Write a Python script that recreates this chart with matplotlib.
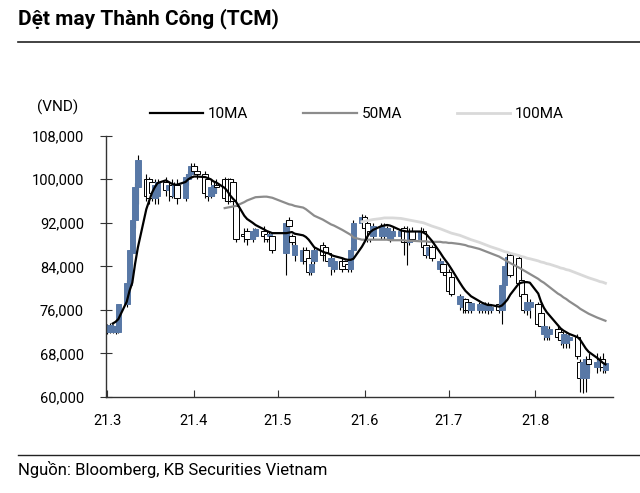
import matplotlib
matplotlib.use('Agg')
import matplotlib.pyplot as plt
import matplotlib.dates as mdates
from matplotlib.lines import Line2D
import numpy as np
import pandas as pd

plt.rcParams['font.family'] = ['Roboto', 'DejaVu Sans']

title = 'Dệt may Thành Công (TCM)'
source = 'Nguồn: Bloomberg, KB Securities Vietnam'
unit_label = '(VND)'
ma_labels = ['10MA', '50MA', '100MA']

start_date = '2021-03-01'
end_date = '2021-08-26'
holidays = ['2021-04-21', '2021-04-30', '2021-05-03']

tick_dates = ['2021-03-01', '2021-04-01', '2021-05-01', '2021-06-01', '2021-07-01', '2021-08-01']
tick_labels = ['21.3', '21.4', '21.5', '21.6', '21.7', '21.8']
y_ticks = [60000, 68000, 76000, 84000, 92000, 100000, 108000]

# OHLC in thousand VND, by month
open_k = [
    72.0, 72.0, 72.5, 72.0, 72.0, 77.0, 80.5, 86.5, 92.5, 98.5, 100.0, 100.0, 99.5, 96.5, 97.0, 99.5, 98.0, 99.0, 97.0, 99.0, 96.5, 100.0, 101.0,
    102.5, 101.5, 101.0, 100.0, 97.0, 97.5, 99.0, 100.0, 100.0, 100.0, 99.5, 95.0, 90.0, 90.5, 89.0, 89.5, 90.5, 90.0, 89.5, 89.5,
    86.5, 92.5, 89.5, 86.0, 85.0, 87.0, 85.5, 83.0, 85.0, 88.0, 87.5, 86.5, 84.0, 83.5, 85.0, 85.0, 84.5, 83.5, 87.0, 92.0,
    93.0, 92.0, 90.5, 89.5, 89.5, 89.5, 89.5, 89.0, 89.5, 89.5, 91.0, 90.5, 88.5, 90.5, 89.0, 90.5, 88.0, 86.0, 87.5, 83.5, 84.5, 83.0,
    83.0, 82.0, 77.0, 76.5, 78.0, 77.5, 76.0, 76.0, 76.0, 76.0, 76.0, 76.0, 77.0, 76.0, 80.5, 84.0, 86.0, 85.5, 81.5, 79.0, 76.0, 76.5,
    77.0, 75.5, 71.5, 71.0, 71.5, 72.5, 72.0, 70.0, 70.0, 70.5, 71.0, 66.5, 63.5, 63.5, 67.0, 65.5, 66.0, 67.0, 65.0,
]
high_k = [
    73.5, 73.6, 73.5, 73.3, 77.0, 81.5, 87.0, 92.5, 99.3, 104.5, 101.0, 100.5, 100.0, 100.0, 100.0, 100.5, 99.5, 100.0, 99.5, 100.0, 101.0, 101.5, 103.0,
    103.0, 102.5, 101.5, 100.5, 99.0, 99.5, 100.0, 100.5, 100.2, 100.2, 100.0, 95.0, 91.0, 91.0, 91.0, 91.0, 91.5, 90.5, 90.5, 89.5,
    92.5, 93.0, 90.0, 88.5, 87.5, 87.5, 86.0, 85.0, 87.5, 88.5, 88.0, 87.5, 86.0, 85.5, 85.5, 85.2, 85.0, 87.5, 92.5, 93.7,
    93.5, 92.5, 91.0, 92.0, 92.0, 92.0, 91.5, 91.0, 91.5, 91.0, 91.5, 91.5, 91.0, 91.2, 91.2, 91.0, 88.5, 88.0, 88.0, 85.5, 85.0, 84.0,
    83.5, 82.5, 79.0, 78.5, 78.2, 78.0, 77.5, 77.5, 77.5, 77.5, 77.5, 77.0, 77.5, 81.0, 84.5, 86.5, 86.5, 86.0, 82.0, 79.5, 78.0, 78.0,
    77.5, 76.0, 73.5, 73.0, 73.0, 73.0, 72.5, 72.0, 71.8, 71.5, 71.5, 67.0, 67.0, 67.5, 68.0, 68.0, 67.5, 68.0, 67.0,
]
low_k = [
    71.5, 71.8, 71.8, 71.5, 71.8, 76.5, 80.0, 84.0, 91.0, 95.5, 96.0, 95.5, 96.0, 95.5, 95.5, 97.0, 96.0, 96.5, 96.5, 95.5, 96.0, 99.0, 100.5,
    101.0, 100.0, 96.5, 96.0, 96.5, 97.0, 97.5, 96.0, 95.5, 95.8, 95.0, 88.5, 88.5, 88.0, 88.5, 89.0, 88.5, 88.5, 88.5, 86.5,
    82.5, 89.0, 87.5, 85.0, 84.5, 84.5, 82.5, 82.5, 84.5, 85.0, 85.5, 84.5, 82.5, 83.0, 83.0, 83.5, 83.0, 83.0, 86.5, 91.0,
    90.0, 88.5, 88.5, 89.0, 89.0, 89.0, 89.0, 88.5, 89.0, 88.5, 86.0, 84.2, 88.0, 88.5, 88.5, 86.0, 85.5, 85.5, 85.0, 83.0, 82.5, 82.0,
    79.0, 78.5, 76.0, 75.5, 75.5, 75.5, 75.5, 75.5, 75.5, 75.5, 75.3, 75.5, 75.5, 73.5, 80.0, 82.0, 82.0, 80.0, 78.0, 75.5, 75.0, 74.5,
    73.0, 72.5, 70.5, 70.5, 70.5, 70.5, 69.5, 69.0, 69.0, 69.0, 67.0, 61.0, 60.7, 61.0, 64.5, 64.5, 64.8, 64.5, 64.5,
]
close_k = [
    73.0, 73.2, 73.0, 73.0, 77.0, 81.0, 87.0, 92.5, 98.5, 103.5, 97.0, 96.5, 97.5, 99.0, 99.5, 98.0, 99.0, 97.0, 99.0, 96.5, 100.5, 101.0, 102.5,
    101.5, 101.0, 97.5, 97.0, 98.5, 99.0, 98.5, 96.5, 96.0, 96.0, 96.0, 89.0, 89.5, 89.0, 90.5, 90.8, 89.5, 89.0, 90.0, 87.0,
    92.0, 91.5, 88.5, 88.0, 87.0, 85.0, 83.0, 84.5, 87.0, 86.0, 86.0, 85.0, 85.5, 85.0, 83.5, 84.0, 83.5, 87.0, 92.0, 93.0,
    91.0, 89.0, 89.0, 91.5, 91.5, 91.0, 91.0, 90.5, 90.5, 90.5, 88.5, 88.5, 90.5, 89.0, 90.5, 87.5, 86.0, 87.5, 85.5, 85.0, 83.0, 82.5,
    79.5, 79.0, 78.5, 78.0, 76.0, 76.0, 77.2, 77.0, 77.0, 77.0, 77.0, 76.5, 76.0, 80.5, 84.0, 85.8, 82.5, 81.0, 78.5, 76.0, 77.5, 77.5,
    73.5, 73.0, 73.0, 72.5, 72.5, 71.0, 70.5, 71.5, 71.3, 71.0, 67.5, 63.5, 66.5, 67.0, 66.0, 66.5, 66.8, 65.5, 66.3,
]

N = np.nan
ma10_k = [
    N, N, 73.5, 73.8, 74.3, 77.5, 79.5, 81.0, 84.5, 87.5, 94.5, 96.0, 97.5, 98.5, 99.3, 99.8, 99.5, 99.2, 99.0, 99.0, 99.5, 100.0, 100.3,
    100.5, 100.5, 100.4, 100.2, 100.0, 99.6, 99.4, 98.4, 97.8, 97.0, 96.4, 95.9, 93.3, 92.7, 92.0, 91.6, 90.8, 90.5, 90.3, 90.1,
    90.1, 90.2, 90.3, 90.0, 89.7, 89.4, 88.9, 88.2, 87.5, 86.7, 86.5, 86.4, 86.1, 85.9, 85.5, 85.3, 85.2, 85.2, 85.4, 87.6,
    88.5, 89.5, 90.3, 90.7, 91.4, 91.5, 91.6, 91.5, 91.3, 90.6, 90.5, 90.4, 90.4, 90.4, 90.4, 90.2, 89.9, 89.3, 88.7, 86.5, 85.7, 85.0,
    84.3, 83.5, 81.0, 80.2, 79.5, 79.0, 78.5, 77.6, 77.3, 77.1, 76.9, 76.9, 76.6, 76.8, 77.3, 77.9, 78.8, 80.8, 81.0, 81.1, 81.1, 81.0,
    79.0, 77.5, 76.4, 75.6, 75.0, 73.2, 72.6, 72.2, 71.9, 71.6, 71.0, 70.5, 69.7, 68.9, 68.3, 67.2, 66.8, 66.3, 66.0,
]
ma50_k = [N] * 30 + [
    94.7, 94.8, 94.9, 95.0, 95.1, 95.8, 96.1, 96.5, 96.7, 96.8, 96.8, 96.7, 96.6,
    95.6, 95.4, 95.3, 95.1, 94.8, 94.5, 94.1, 93.7, 93.3, 92.6, 92.3, 92.0, 91.7, 91.5, 90.7, 90.4, 90.1, 89.8, 89.3, 88.9,
    88.9, 88.9, 88.9, 88.9, 88.9, 88.9, 88.9, 88.8, 88.8, 88.8, 88.8, 88.7, 88.7, 88.7, 88.6, 88.6, 88.6, 88.5, 88.5, 88.5, 88.4, 88.4,
    88.3, 88.3, 88.1, 88.0, 87.9, 87.7, 87.6, 87.2, 87.0, 86.8, 86.6, 86.4, 85.8, 85.5, 85.2, 84.9, 84.6, 83.8, 83.5, 83.2, 82.9, 82.6,
    81.7, 81.3, 81.0, 80.6, 80.2, 79.0, 78.7, 78.3, 78.0, 77.6, 76.6, 76.2, 75.9, 75.6, 75.3, 74.6, 74.4, 74.2, 74.0,
]
ma100_k = [N] * 62 + [
    92.2,
    92.3, 92.4, 92.5, 92.6, 92.8, 92.9, 92.9, 92.9, 92.9, 92.8, 92.7, 92.6, 92.5, 92.4, 92.1, 92.0, 91.8, 91.6, 91.4, 90.9, 90.7, 90.5,
    90.3, 90.1, 89.7, 89.5, 89.3, 89.1, 88.9, 88.4, 88.2, 88.0, 87.8, 87.6, 87.1, 86.9, 86.7, 86.6, 86.4, 86.0, 85.8, 85.7, 85.5, 85.4,
    85.0, 84.8, 84.7, 84.5, 84.4, 83.9, 83.7, 83.6, 83.4, 83.3, 82.7, 82.5, 82.3, 82.1, 81.9, 81.4, 81.2, 81.1, 80.9,
]

dates = pd.bdate_range(start_date, end_date, freq='C', holidays=holidays)
assert len(dates) == len(open_k) == len(high_k) == len(low_k) == len(close_k)
assert len(ma10_k) == len(dates) and len(ma50_k) == len(dates) and len(ma100_k) == len(dates)

x = mdates.date2num(dates.to_pydatetime())
o = np.array(open_k) * 1000
h = np.array(high_k) * 1000
l = np.array(low_k) * 1000
c = np.array(close_k) * 1000
up = c >= o

blue = '#5878a6'
W, H = 640, 493
fig = plt.figure(figsize=(W / 100, H / 100), dpi=100)
ax = fig.add_axes([106 / W, 1 - 397 / H, (613 - 106) / W, (397 - 135.7) / H])

ax.vlines(x, l, h, color='black', lw=0.8, zorder=1)
face = [blue if u else 'white' for u in up]
edge = [blue if u else 'black' for u in up]
ax.bar(x, np.abs(c - o), bottom=np.minimum(o, c), width=2.0, color=face, edgecolor=edge,
       linewidth=0.7, zorder=2)

l100, = ax.plot(x, np.array(ma100_k) * 1000, color='#d9d9d9', lw=2.0, zorder=3)
l50, = ax.plot(x, np.array(ma50_k) * 1000, color='#8c8c8c', lw=1.6, zorder=3)
l10, = ax.plot(x, np.array(ma10_k) * 1000, color='black', lw=1.6, zorder=4)

ax.set_xlim(mdates.date2num(pd.Timestamp(start_date)) - 0.4, mdates.date2num(pd.Timestamp('2021-08-28')) + 0.7)
ax.set_ylim(y_ticks[0], y_ticks[-1])
ax.set_yticks(y_ticks)
ax.set_yticklabels([f'{v:,}' for v in y_ticks])
ax.set_xticks(mdates.date2num(pd.to_datetime(tick_dates).to_pydatetime()))
ax.set_xticklabels(tick_labels)

for s in ['top', 'right']:
    ax.spines[s].set_visible(False)
for s in ['left', 'bottom']:
    ax.spines[s].set_color('#333333')
    ax.spines[s].set_linewidth(1.0)
ax.tick_params(axis='y', direction='inout', length=8, width=0.8, pad=12, labelsize=10.5, colors='#333333', labelcolor='black')
ax.tick_params(axis='x', direction='in', length=5, width=0.8, pad=12, labelsize=10.5, colors='#333333', labelcolor='black')

fig.legend([l10, l50, l100], ma_labels, ncol=3, loc='center left',
           bbox_to_anchor=(150 / W, 1 - 114 / H), frameon=False, borderpad=0, borderaxespad=0,
           handlelength=3.5, handletextpad=0.3, columnspacing=3.6, fontsize=11)

fig.text(58 / W, 1 - 107 / H, unit_label, ha='center', va='center', fontsize=11)
fig.text(18 / W, 1 - 19 / H, title, ha='left', va='center', fontsize=15, fontweight='bold')
fig.add_artist(Line2D([18 / W, 1], [1 - 42 / H] * 2, transform=fig.transFigure, color='#222222', lw=1.2))
fig.add_artist(Line2D([18 / W, 1], [1 - 455 / H] * 2, transform=fig.transFigure, color='#222222', lw=1.0))
fig.text(18 / W, 1 - 470 / H, source, ha='left', va='center', fontsize=12)

fig.savefig('out.png', dpi=100)
